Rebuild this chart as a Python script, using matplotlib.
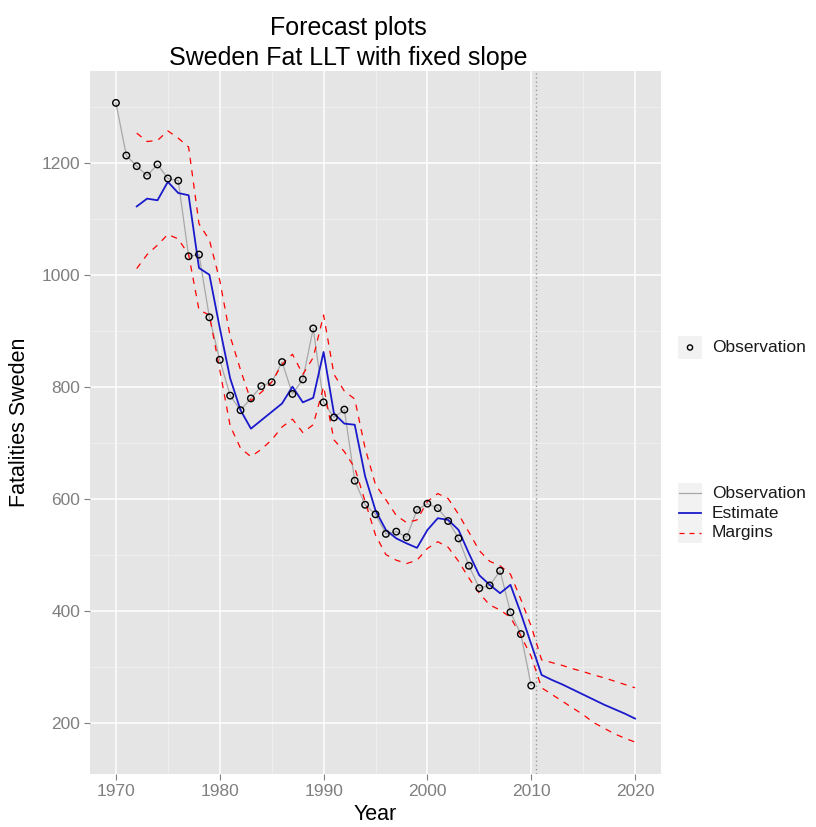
import numpy as np
import matplotlib.pyplot as plt
from matplotlib.patches import Rectangle

plt.rcParams['font.family'] = ['Liberation Sans', 'DejaVu Sans']

# observed fatalities 1970-2010
obs_years = list(range(1970, 2011))
observed = [1307, 1213, 1194, 1177, 1197, 1172, 1168, 1033, 1036, 924,
            848, 784, 758, 779, 801, 808, 844, 787, 813, 904,
            772, 745, 759, 632, 589, 572, 537, 541, 531, 580,
            591, 583, 560, 529, 480, 440, 445, 471, 397, 358,
            266]

# model estimate and margins 1972-2020
est_years = list(range(1972, 2021))
estimate = [1122, 1136, 1133, 1166, 1146, 1142,
            1012, 1000, 905, 815, 758, 725, 740, 755, 770, 800,
            772, 780, 862, 752, 734, 732, 640, 579, 544, 529,
            520, 512, 544, 565, 562, 544, 502, 463, 446, 431,
            446, 395, 340,
            285, 276, 268, 259, 250, 241, 232, 224, 216, 207]
upper = [1253, 1238, 1240, 1257, 1244, 1228,
         1091, 1062, 990, 890, 830, 775, 790, 808, 840, 858,
         822, 852, 928, 822, 792, 778, 690, 625, 598, 570,
         557, 562, 595, 609, 600, 572, 540, 507, 488, 480,
         465, 420, 372,
         312, 307, 302, 296, 291, 285, 280, 274, 268, 262]
lower = [1011, 1036, 1053, 1072, 1064, 1036,
         937, 928, 830, 730, 690, 675, 688, 705, 728, 742,
         718, 732, 800, 705, 684, 655, 595, 535, 500, 490,
         484, 490, 511, 523, 513, 488, 458, 431, 410, 401,
         388, 355, 318,
         262, 250, 238, 226, 214, 200, 190, 180, 172, 165]

forecast_start = 2010.5

W, H = 816, 827


def box(l, t, r, b):
    return [l / W, 1 - b / H, (r - l) / W, (b - t) / H]


fig = plt.figure(figsize=(W / 100, H / 100), dpi=100)
ax = fig.add_axes(box(90, 71, 661, 774))
ax.set_facecolor('#E5E5E5')
for s in ax.spines.values():
    s.set_visible(False)

ax.plot(obs_years, observed, color='#A8A8A8', lw=0.9, zorder=3)
ax.plot(est_years, estimate, color='#1A1ACC', lw=1.3, zorder=4)
ax.plot(est_years, upper, color='#FF0000', lw=0.9, ls=(0, (5, 5)), zorder=4)
ax.plot(est_years, lower, color='#FF0000', lw=0.9, ls=(0, (5, 5)), zorder=4)
ax.scatter(obs_years, observed, s=22, facecolors='none', edgecolors='black',
           linewidths=1.0, zorder=5)
ax.axvline(forecast_start, color='#9A9A9A', lw=1.0, ls=(0, (1, 2)), zorder=2)

ax.set_xlim(1967.5, 2022.5)
ax.set_ylim(108, 1364)
ax.set_xticks(range(1970, 2021, 10))
ax.set_xticks(range(1975, 2020, 10), minor=True)
ax.set_yticks(range(200, 1201, 200))
ax.set_yticks(range(300, 1301, 200), minor=True)
ax.grid(which='major', color='white', lw=1.1)
ax.grid(which='minor', color='#F2F2F2', lw=0.55)
ax.set_axisbelow(True)
ax.tick_params(which='major', direction='out', length=4, width=0.8,
               color='#7F7F7F', labelcolor='#7F7F7F', labelsize=12.5, pad=3)
ax.tick_params(which='minor', length=0)

fig.text(348 / W, 1 - 28 / H, 'Forecast plots', ha='center', va='center', fontsize=18)
fig.text(348 / W, 1 - 58 / H, 'Sweden Fat LLT with fixed slope', ha='center',
         va='center', fontsize=18)
fig.text(375 / W, 1 - 814 / H, 'Year', ha='center', va='center', fontsize=15.5)
fig.text(20 / W, 1 - 422 / H, 'Fatalities Sweden', ha='center', va='center',
         rotation=90, fontsize=15.5)

# legends drawn in a blank overlay
lg = fig.add_axes([0, 0, 1, 1], facecolor='none')
lg.set_xlim(0, W)
lg.set_ylim(H, 0)
lg.axis('off')

lg.add_patch(Rectangle((678, 336), 24, 23, color='#F2F2F2', lw=0))
lg.scatter([690], [347.5], s=14, facecolors='none', edgecolors='black', linewidths=1.0)
lg.text(712, 347.5, 'Observation', va='center', ha='left', fontsize=12.5, color='#1A1A1A')

keys = [('Observation', '#A8A8A8', '-', 0.9), ('Estimate', '#1A1ACC', '-', 1.3),
        ('Margins', '#FF0000', (0, (4, 4)), 0.9)]
for i, (name, c, ls, lw) in enumerate(keys):
    yc = 493 + 20 * i
    lg.add_patch(Rectangle((678, yc - 10), 24, 20, color='#F2F2F2', lw=0))
    lg.plot([679, 701], [yc, yc], color=c, ls=ls, lw=lw)
    lg.text(712, yc, name, va='center', ha='left', fontsize=12.5, color='#1A1A1A')

fig.savefig('out.png', dpi=100)
